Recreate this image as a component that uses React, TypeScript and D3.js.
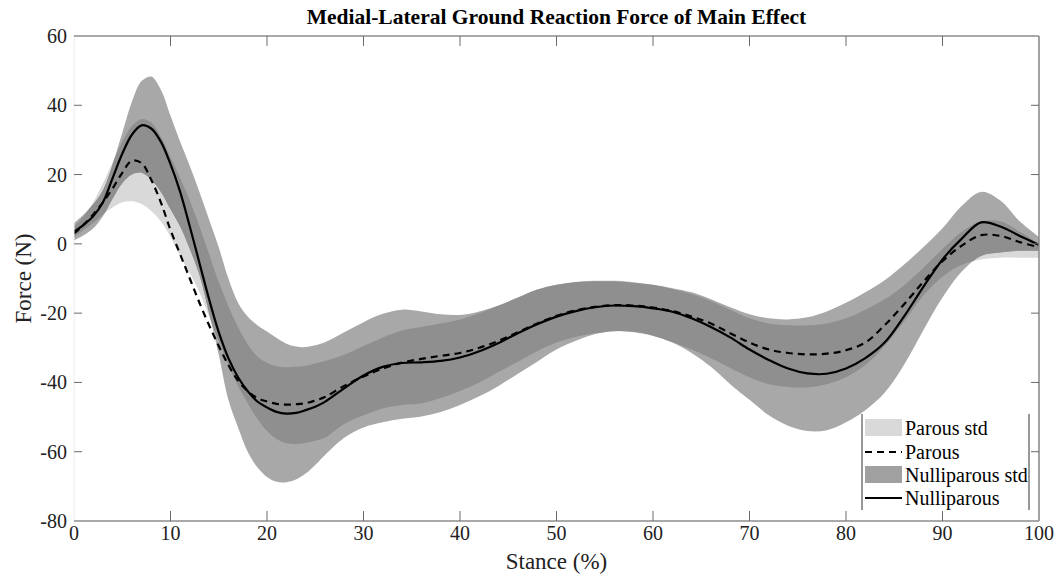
import React from "react";
import * as d3 from "d3";

const stance = [0,1,2,3,4,5,6,7,8,9,10,11,12,13,14,15,16,17,18,19,20,21,22,23,24,25,26,28,30,32,34,36,38,40,42,44,46,48,50,52,54,56,58,60,62,64,66,68,70,72,74,76,78,80,82,84,86,88,90,92,94,96,98,100];

const nulliparousMean = [3.5,5.5,8,12,19,26,31.5,34.2,33.3,29.5,23,15,5,-5.5,-16,-25.5,-33,-38.5,-42.5,-45.5,-47.2,-48.5,-49,-48.8,-48,-47,-45.6,-41.7,-38,-35.5,-34.4,-34.2,-33.8,-32.8,-31,-28.6,-25.8,-23.2,-21,-19.4,-18.3,-17.8,-18,-18.6,-19.6,-21.5,-24,-27,-30.5,-33.5,-36,-37.4,-37.5,-36,-33,-28.5,-21,-12.5,-4.5,1.5,6.2,5,2.3,-0.3];

const parousMean = [3,5.5,8.5,12,16,20.5,24,23.3,18.5,12,4,-3,-10,-17,-23.5,-29.5,-35,-39.5,-42.5,-44.5,-45.5,-46.2,-46.4,-46.3,-46,-45.2,-44.2,-41,-38.3,-36,-34.3,-33.2,-32.3,-31.5,-30,-28,-25.5,-23,-20.8,-19.2,-18.2,-17.7,-17.8,-18.4,-19.4,-21,-23,-25.8,-28.5,-30.5,-31.5,-31.9,-31.7,-30.7,-28.5,-23.5,-17.5,-11,-5,-0.5,2.5,2.3,0.5,-1];

const nulliparousUpper = [6,8.5,11.5,15.5,23,32,41,47,48.3,44.5,37,29.5,22.5,15,7,-1,-10,-17,-21,-23.5,-25.3,-27.2,-28.8,-29.6,-29.8,-29.3,-28.4,-25.5,-22.6,-20.2,-19,-19.5,-20.3,-20.5,-19.5,-17.8,-15.5,-13.2,-11.8,-11,-10.8,-10.8,-11.2,-11.8,-12.8,-14,-16,-18.3,-20.3,-21.5,-21.8,-21.2,-19.5,-17,-14,-10.5,-6,-1,4.5,11,15,12.5,6.5,2];

const nulliparousLower = [1,2.5,4.5,8,13,17.5,20,20.5,18.5,15,10,5,-1.5,-9,-20,-32,-45,-53,-60,-64.5,-67.3,-68.7,-68.8,-68,-66.3,-63.8,-61,-56,-53,-51.5,-50.5,-49.8,-48.5,-46.5,-44,-41,-37.5,-34,-30.5,-28,-26,-25.2,-25.4,-26.5,-28.5,-31.5,-35.5,-40.5,-45,-49.5,-52.5,-54,-53.8,-51.5,-48,-43,-35,-25,-15.5,-8,-3.5,-2.5,-2,-2];

const parousUpper = [5,8,12,17.5,23.5,29.5,34,36,35,31,25,19,12.5,5,-3,-11,-18,-24,-29,-32.5,-34.3,-35.3,-35.6,-35.5,-35.2,-34.5,-33.8,-32,-29.5,-27,-25,-24,-23,-21.8,-20,-17.8,-15.5,-13.2,-11.8,-11,-10.6,-10.6,-11,-11.8,-13,-14.5,-16.5,-19,-21.5,-23,-23.5,-23.5,-23,-21.5,-19,-16,-12,-7,-1.5,3.5,6.5,6.5,3.5,0];

const parousLower = [2,4,6,8.5,10.5,12,12.3,11.5,9.5,6.5,2,-3.5,-8.5,-14,-21,-28,-35,-41,-46,-50.5,-54,-56.3,-57.5,-57.8,-57.5,-56.8,-56,-52,-49.5,-47.5,-46.5,-46,-44.5,-42.5,-40,-37,-34,-31,-28.5,-26.8,-25.8,-25.2,-25.6,-26.6,-28.3,-30.5,-33,-35.8,-38.5,-40.5,-41.3,-41.4,-40.5,-38.5,-35,-29.5,-22.5,-15,-9.5,-6,-4.5,-4,-4,-4];

const xTicks = [0,10,20,30,40,50,60,70,80,90,100];
const yTicks = [-80,-60,-40,-20,0,20,40,60];

const legendItems = ["Parous std", "Parous", "Nulliparous std", "Nulliparous"];

const W = 1060, H = 586;
const M = { left: 74, right: 1039, top: 36, bottom: 521 };
const FONT = "'Liberation Serif', 'Times New Roman', serif";

export default function App() {
  const x = d3.scaleLinear().domain([0, 100]).range([M.left, M.right]);
  const y = d3.scaleLinear().domain([-80, 60]).range([M.bottom, M.top]);
  const idx = stance.map((_, i) => i);
  const curve = d3.curveCatmullRom.alpha(0.5);

  const area = (up: number[], lo: number[]) =>
    d3.area<number>().x(i => x(stance[i])).y0(i => y(lo[i])).y1(i => y(up[i])).curve(curve)(idx) || "";
  const line = (v: number[]) =>
    d3.line<number>().x(i => x(stance[i])).y(i => y(v[i])).curve(curve)(idx) || "";

  const pArea = area(parousUpper, parousLower);
  const nArea = area(nulliparousUpper, nulliparousLower);

  const legX = 862, legY = 414, legW = 167, legH = 96;
  const rowY = [428, 452, 475, 498];

  return (
    <svg width={W} height={H} style={{ position: "absolute", left: 0, top: 0, background: "#fff" }}>
      <defs>
        <clipPath id="plot"><rect x={M.left} y={M.top} width={M.right - M.left} height={M.bottom - M.top} /></clipPath>
        <clipPath id="pclip"><path d={pArea} /></clipPath>
      </defs>
      <rect x={0} y={0} width={W} height={H} fill="#fff" />
      <g clipPath="url(#plot)">
        <path d={pArea} fill="#d9d9d9" />
        <path d={nArea} fill="#a8a8a8" />
        <g clipPath="url(#pclip)">
          <path d={nArea} fill="#8f8f8f" />
        </g>
        <path d={line(parousMean)} fill="none" stroke="#000" strokeWidth={2.2} strokeDasharray="7,5" />
        <path d={line(nulliparousMean)} fill="none" stroke="#000" strokeWidth={2.2} />
      </g>
      <line x1={M.left} x2={M.left} y1={M.top} y2={M.bottom} stroke="#ececec" strokeWidth={1} />
      <line x1={M.left} x2={M.right} y1={M.top} y2={M.top} stroke="#8c8c8c" strokeWidth={1.6} />
      <line x1={M.left} x2={M.right} y1={M.bottom} y2={M.bottom} stroke="#8c8c8c" strokeWidth={1.6} />
      <line x1={M.right} x2={M.right} y1={M.top} y2={M.bottom} stroke="#8c8c8c" strokeWidth={1.6} />
      {xTicks.map(t => (
        <g key={"xt" + t}>
          {t > 0 && t < 100 && <line x1={x(t)} x2={x(t)} y1={M.bottom} y2={M.bottom - 10} stroke="#6a6a6a" strokeWidth={1} />}
          {t > 0 && t < 100 && <line x1={x(t)} x2={x(t)} y1={M.top} y2={M.top + 10} stroke="#6a6a6a" strokeWidth={1} />}
          <text x={x(t)} y={540} textAnchor="middle" fontFamily={FONT} fontSize={20} fill="#222">{t}</text>
        </g>
      ))}
      {yTicks.map(t => (
        <g key={"yt" + t}>
          {t > -80 && t < 60 && <line x1={M.left} x2={M.left + 8} y1={y(t)} y2={y(t)} stroke="#6a6a6a" strokeWidth={1} />}
          {t > -80 && t < 60 && <line x1={M.right} x2={M.right - 8} y1={y(t)} y2={y(t)} stroke="#6a6a6a" strokeWidth={1} />}
          <text x={67} y={y(t) + 7} textAnchor="end" fontFamily={FONT} fontSize={20} fill="#222">{t}</text>
        </g>
      ))}
      <text x={(M.left + M.right) / 2} y={24} textAnchor="middle" fontFamily={FONT} fontWeight="bold" fontSize={21.5} fill="#000">
        Medial-Lateral Ground Reaction Force of Main Effect
      </text>
      <text x={(M.left + M.right) / 2} y={569} textAnchor="middle" fontFamily={FONT} fontSize={23} fill="#222">Stance (%)</text>
      <text transform={`translate(31,${(M.top + M.bottom) / 2}) rotate(-90)`} textAnchor="middle" fontFamily={FONT} fontSize={23} fill="#222">Force (N)</text>
      <g>
        <rect x={legX} y={legY} width={legW} height={legH} fill="#fff" />
        <line x1={legX} x2={legX} y1={legY} y2={legY + legH} stroke="#333" strokeWidth={1} />
        <line x1={legX + legW} x2={legX + legW} y1={legY} y2={legY + legH} stroke="#333" strokeWidth={1} />
        <rect x={865} y={rowY[0] - 9} width={37} height={17} fill="#d9d9d9" />
        <line x1={865} x2={902} y1={rowY[1]} y2={rowY[1]} stroke="#000" strokeWidth={2.2} strokeDasharray="7,5" />
        <rect x={865} y={rowY[2] - 9} width={37} height={17} fill="#a0a0a0" />
        <line x1={865} x2={902} y1={rowY[3]} y2={rowY[3]} stroke="#000" strokeWidth={2} />
        {legendItems.map((s, i) => (
          <text key={s} x={905} y={rowY[i] + 7} fontFamily={FONT} fontSize={20} fill="#000">{s}</text>
        ))}
      </g>
    </svg>
  );
}
